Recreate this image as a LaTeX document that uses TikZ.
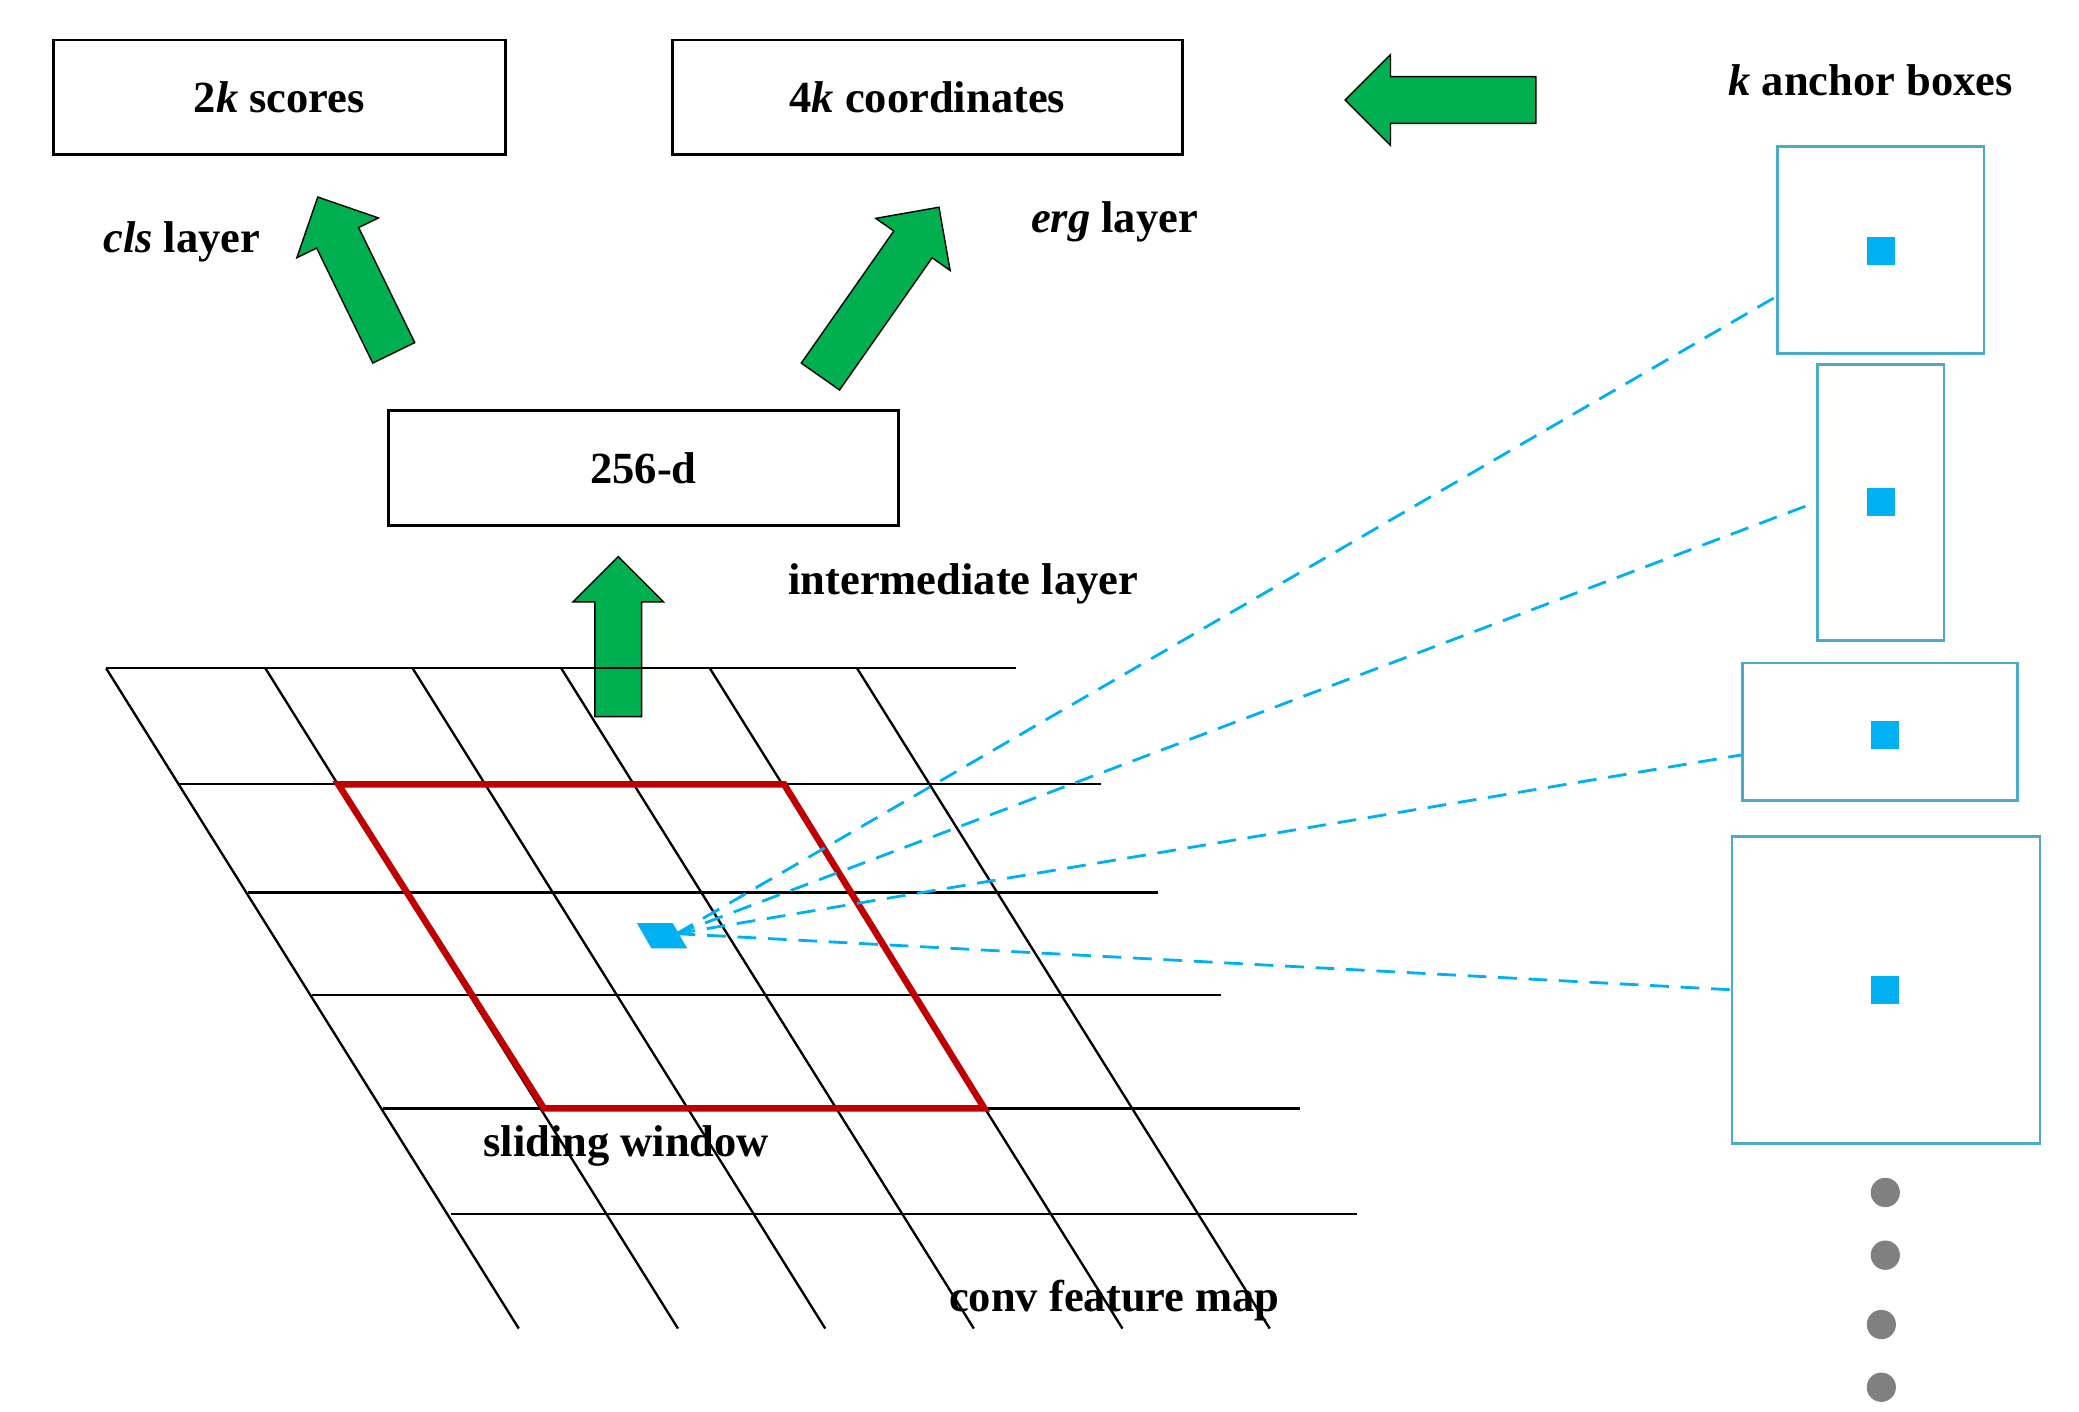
\documentclass[tikz,border=0pt]{standalone}
\usepackage{fontspec}
\setmainfont{Liberation Serif}
\usetikzlibrary{shapes.arrows}
\definecolor{arrowgreen}{RGB}{0,176,80}
\definecolor{anchorblue}{RGB}{75,172,198}
\definecolor{dotblue}{RGB}{0,176,240}
\definecolor{windowred}{RGB}{192,0,0}

\begin{document}
\begin{tikzpicture}[x=0.0199cm,y=-0.02cm,font=\fontsize{19}{22}\selectfont\bfseries,
    box/.style={draw,line width=1.2pt,inner sep=0pt},
    garrow/.style={single arrow,draw=black,fill=arrowgreen,line width=0.6pt,inner xsep=0pt,inner ysep=0.34cm,
        minimum width=1.35cm,single arrow head extend=0.33cm,single arrow head indent=0pt},
    grid/.style={line width=1pt},
    abox/.style={draw=anchorblue,line width=1.2pt,inner sep=0pt},
    center/.style={fill=dotblue,minimum size=0.42cm,inner sep=0pt},
    link/.style={dotblue,dashed,line width=1.2pt,dash pattern=on 8pt off 5pt}]
    \useasboundingbox (0,0) rectangle (1567,1058);
    % output boxes
    \node[box,minimum width=6.78cm,minimum height=1.72cm] (scores) at (210.5,73) {2\textit{k} scores};
    \node[box,minimum width=7.64cm,minimum height=1.72cm] (coords) at (699,73) {4\textit{k} coordinates};
    \node[box,minimum width=7.64cm,minimum height=1.72cm] (inter) at (485,351) {256-d};
    % green arrows
    \node[garrow,minimum height=2.86cm,rotate=180] (toleft) at (1094.5,75) {};
    \node[garrow,minimum height=2.4cm,rotate=90] (up) at (466,486) {};
    \node[garrow,minimum height=2.6cm,rotate=116] (tocls) at (272,214) {};
    \node[garrow,minimum height=3.1cm,rotate=55] (toerg) at (658,226) {};
    % labels
    \node (lanchor) at (1410,60) {\textit{k} anchor boxes};
    \node (lcls) at (137,181) {\textit{cls} layer};
    \node (lerg) at (840,166) {\textit{erg} layer};
    \node (linter) at (726,438) {intermediate layer};
    % feature map grid
    \foreach \y/\xl/\xr in {501/80/766,588/135/830,669/187/873,746/235/920,831/289/980,910/340/1023}
        \draw[grid] (\xl,\y) -- (\xr,\y);
    \foreach \x in {80,200,311,423,535,646}
        \draw[grid] (\x,501) -- ++(311,495);
    \draw[windowred,line width=2.8pt] (255,588) -- (591,588) -- (742,831) -- (410,831) -- cycle;
    \node (lslide) at (472,859) {sliding window};
    \node (lconv) at (840,975) {conv feature map};
    \fill[dotblue] (480,692) -- (507,692) -- (518,711) -- (491,711) -- cycle;
    \coordinate (pos) at (510,700);
    % anchor boxes
    \node[abox,minimum width=3.1cm,minimum height=3.1cm] (a1) at (1417.5,187.5) {};
    \node[abox,minimum width=1.9cm,minimum height=4.14cm] (a2) at (1417.5,376.5) {};
    \node[abox,minimum width=4.12cm,minimum height=2.06cm] (a3) at (1417,548.5) {};
    \node[abox,minimum width=4.62cm,minimum height=4.6cm] (a4) at (1421.5,742) {};
    \node[center] (c1) at (1418,188) {};
    \node[center] (c2) at (1418,376) {};
    \node[center] (c3) at (1421,551) {};
    \node[center] (c4) at (1421,742) {};
    \draw[link] (pos) -- ([yshift=-0.7cm]a1.west);
    \draw[link] (pos) -- (a2.west);
    \draw[link] (pos) -- ([yshift=-0.35cm]a3.west);
    \draw[link] (pos) -- (a4.west);
    \foreach \x/\y in {1421/894,1421/941,1418/993,1418/1040}
        \fill[gray] (\x,\y) circle (11);
\end{tikzpicture}
\end{document}
